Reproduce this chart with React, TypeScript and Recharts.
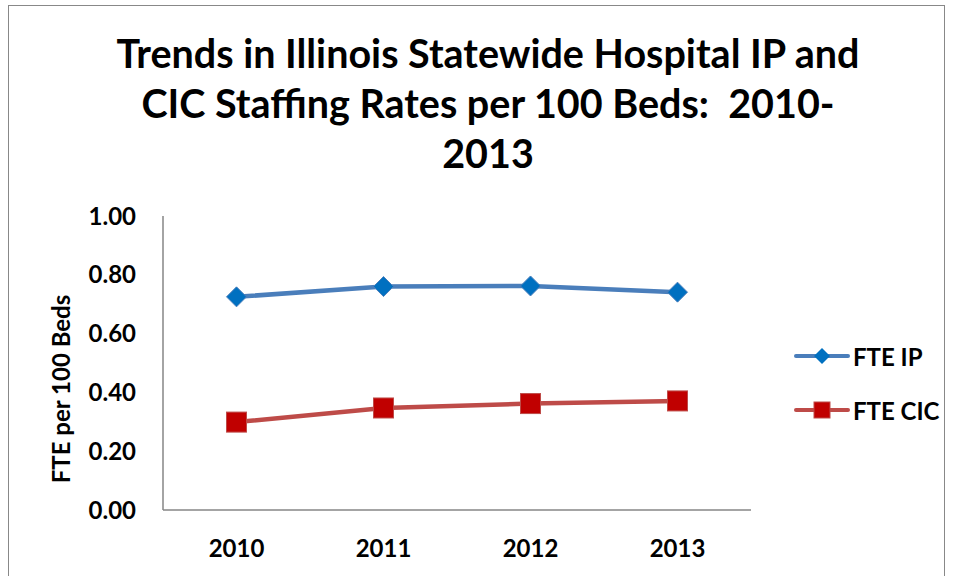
import React from 'react';
import { LineChart, Line, XAxis, YAxis } from 'recharts';

const years = ['2010', '2011', '2012', '2013'];
const fteIP = [0.725, 0.76, 0.762, 0.741];
const fteCIC = [0.299, 0.347, 0.362, 0.371];
const yTicks = [0, 0.2, 0.4, 0.6, 0.8, 1.0];
const titleLines = [
  'Trends in Illinois Statewide Hospital IP and',
  'CIC Staffing Rates per 100 Beds:  2010-',
  '2013',
];

const FONT = 'Lato, "Open Sans", sans-serif';
const IP_LINE = '#4A7EBB';
const IP_MARK = '#0070C0';
const CIC_LINE = '#BE4B48';
const CIC_MARK = '#C00000';

const chartData = years.map((year, i) => ({ year, ip: fteIP[i], cic: fteCIC[i] }));

const Diamond = (props: any) => {
  const { cx, cy } = props;
  if (cx == null || cy == null) return null;
  const r = 10;
  return (
    <polygon
      points={`${cx},${cy - r} ${cx + r},${cy} ${cx},${cy + r} ${cx - r},${cy}`}
      fill={IP_MARK}
      stroke={IP_LINE}
      strokeWidth={1}
    />
  );
};

const Square = (props: any) => {
  const { cx, cy } = props;
  if (cx == null || cy == null) return null;
  const h = 10;
  return (
    <rect x={cx - h} y={cy - h} width={h * 2} height={h * 2} fill={CIC_MARK} stroke={CIC_LINE} strokeWidth={1} />
  );
};

const legendItems = [
  { name: 'FTE IP', color: IP_LINE, marker: 'diamond' },
  { name: 'FTE CIC', color: CIC_LINE, marker: 'square' },
];

const ChartLegend = () => (
  <div
    style={{
      position: 'absolute',
      left: 793,
      top: 329,
      fontFamily: FONT,
      fontWeight: 700,
      fontSize: 24,
      color: '#000',
    }}
  >
    {legendItems.map((item) => (
      <div key={item.name} style={{ display: 'flex', alignItems: 'center', height: 54 }}>
        <svg width={58} height={22} style={{ marginRight: 2 }}>
          <line x1={3} y1={11} x2={55} y2={11} stroke={item.color} strokeWidth={4} strokeLinecap="round" />
          {item.marker === 'diamond' ? (
            <polygon points="29,3 37,11 29,19 21,11" fill={IP_MARK} />
          ) : (
            <rect x={21} y={3} width={16} height={16} fill={CIC_MARK} stroke={CIC_LINE} strokeWidth={1} />
          )}
        </svg>
        <span>{item.name}</span>
      </div>
    ))}
  </div>
);

export default function App() {
  return (
    <div style={{ position: 'absolute', left: 0, top: 0, width: 954, height: 576, background: '#fff', overflow: 'hidden' }}>
      <div
        style={{
          position: 'absolute',
          left: 8,
          top: 5,
          width: 937,
          height: 600,
          border: '1.5px solid #888',
          boxSizing: 'border-box',
        }}
      />
      <div
        style={{
          position: 'absolute',
          left: 88,
          width: 800,
          top: 28,
          textAlign: 'center',
          fontFamily: FONT,
          fontWeight: 700,
          fontSize: 39.5,
          lineHeight: '50px',
          color: '#000',
        }}
      >
        {titleLines.map((t) => (
          <div key={t} style={{ whiteSpace: 'pre' }}>{t}</div>
        ))}
      </div>
      <LineChart
        width={954}
        height={576}
        data={chartData}
        margin={{ top: 216, right: 203, bottom: 0, left: 0 }}
        style={{ position: 'absolute', left: 0, top: 0 }}
      >
        <XAxis
          dataKey="year"
          padding={{ left: 73.5, right: 73.5 }}
          axisLine={{ stroke: '#868686', strokeWidth: 1.5 }}
          tickLine={false}
          tickSize={0}
          tickMargin={30}
          tick={{ fontFamily: FONT, fontWeight: 700, fontSize: 24, fill: '#000' }}
          interval={0}
          height={66}
        />
        <YAxis
          width={163}
          domain={[0, 1]}
          ticks={yTicks}
          tickFormatter={(v: number) => v.toFixed(2)}
          axisLine={{ stroke: '#868686', strokeWidth: 1.5 }}
          tickLine={false}
          tickSize={0}
          tickMargin={27}
          tick={{ fontFamily: FONT, fontWeight: 700, fontSize: 24, fill: '#000' }}
          label={() => (
            <text
              x={60}
              y={389}
              transform="rotate(-90 60 389)"
              textAnchor="middle"
              dominantBaseline="central"
              style={{ fontFamily: FONT, fontWeight: 700, fontSize: 24, fill: '#000' }}
            >
              FTE per 100 Beds
            </text>
          )}
        />
        <Line
          type="linear"
          dataKey="ip"
          name="FTE IP"
          stroke={IP_LINE}
          strokeWidth={4.5}
          dot={<Diamond />}
          isAnimationActive={false}
        />
        <Line
          type="linear"
          dataKey="cic"
          name="FTE CIC"
          stroke={CIC_LINE}
          strokeWidth={4.5}
          dot={<Square />}
          isAnimationActive={false}
        />
      </LineChart>
      <ChartLegend />
    </div>
  );
}
